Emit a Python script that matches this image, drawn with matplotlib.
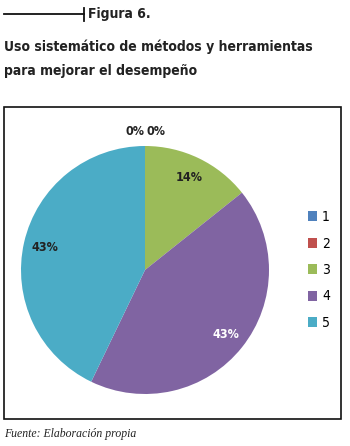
import matplotlib
matplotlib.use("Agg")
import matplotlib.pyplot as plt
from matplotlib.patches import Rectangle
from matplotlib.lines import Line2D
import numpy as np

categories = ["1", "2", "3", "4", "5"]
counts = [0, 0, 1, 3, 3]
colors = ["#4F81BD", "#C0504D", "#9BBB59", "#8064A2", "#4BACC6"]
label_colors = ["#222222", "#222222", "#222222", "#FFFFFF", "#222222"]

W, H = 350, 446
fig = plt.figure(figsize=(W / 100, H / 100), dpi=100)

def fx(x):
    return x / W

def fy(y):
    return 1 - y / H

cond = dict(family="DejaVu Sans", fontstretch="condensed")

# header rule and figure number
fig.add_artist(Line2D([fx(4), fx(84)], [fy(14), fy(14)], color="#111111", lw=1.3))
fig.add_artist(Line2D([fx(84), fx(84)], [fy(8), fy(21)], color="#111111", lw=1.3))
fig.text(fx(88), fy(14), "Figura 6.", fontweight="bold",
         fontsize=10, va="center", ha="left", color="#222222", **cond)

fig.text(fx(4), fy(47), "Uso sistemático de métodos y herramientas",
         fontweight="bold", fontsize=10, va="center", ha="left", color="#222222", **cond)
fig.text(fx(4), fy(71), "para mejorar el desempeño",
         fontweight="bold", fontsize=10, va="center", ha="left", color="#222222", **cond)

# chart frame
fig.add_artist(Rectangle((fx(4), fy(419)), fx(341) - fx(4), fy(107) - fy(419),
                         transform=fig.transFigure, fill=False, ec="#111111", lw=1.2))

# pie
cx, cy, r = 145, 270, 124
ax = fig.add_axes([fx(cx - r), fy(cy + r), (2 * r) / W, (2 * r) / H])
total = sum(counts)
wedges, _ = ax.pie(counts, colors=colors, startangle=90, counterclock=False,
                   radius=1, wedgeprops=dict(linewidth=0))
ax.set_xlim(-1, 1)
ax.set_ylim(-1, 1)
ax.set_aspect("equal")
ax.axis("off")

zero_offsets = [-0.08, 0.09]
zi = 0
for w, c, lc in zip(wedges, counts, label_colors):
    pct = 100 * c / total
    mid = np.deg2rad((w.theta1 + w.theta2) / 2)
    if c == 0:
        x, y = zero_offsets[zi], 1.12
        zi += 1
    else:
        x, y = 0.83 * np.cos(mid), 0.83 * np.sin(mid)
    ax.text(x, y, f"{pct:.0f}%", ha="center", va="center", fontsize=9,
            fontweight="semibold", color=lc, clip_on=False, **cond)

leg = fig.legend(wedges, categories, loc="center left",
                 bbox_to_anchor=(fx(295), fy(270)), frameon=False,
                 handlelength=0.7, handleheight=0.7, handletextpad=0.35,
                 labelspacing=0.9, prop={"family": "DejaVu Sans",
                                         "stretch": "condensed", "size": 10})

fig.text(fx(4), fy(434), "Fuente: Elaboración propia", family="Liberation Serif",
         style="italic", fontsize=8.5, va="center", ha="left", color="#222222")

fig.savefig("out.png", dpi=100, facecolor="white")
